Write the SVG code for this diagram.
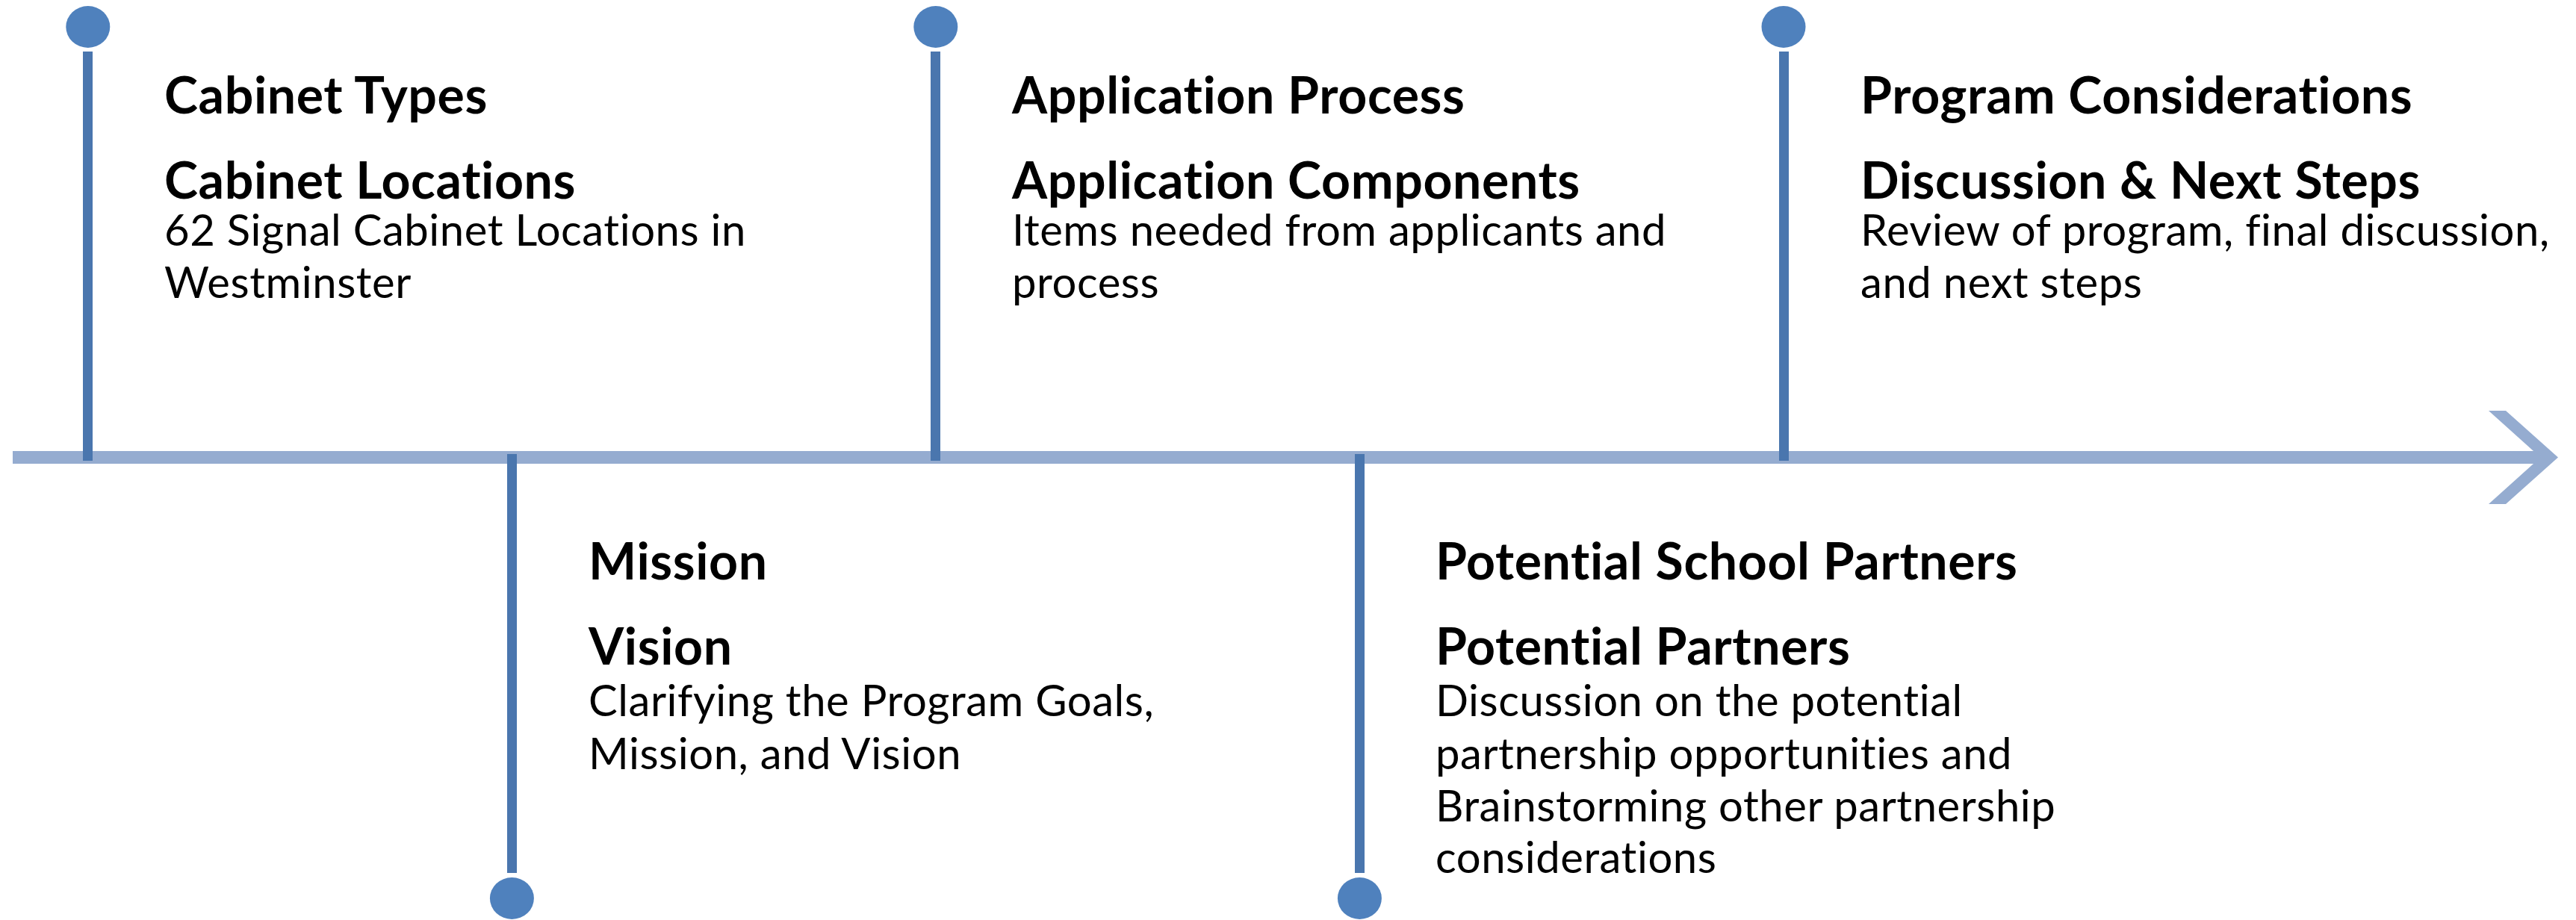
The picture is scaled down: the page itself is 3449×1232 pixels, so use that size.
<svg xmlns="http://www.w3.org/2000/svg" width="3449" height="1232" viewBox="0 0 3449 1232">
<style>
.axis{fill:#95ACD0}
.stem{fill:#4A76AE}
.dot{fill:#4F81BD}
.h,.b{font-family:Lato,"Open Sans","Liberation Sans",sans-serif;fill:#000;font-variant-ligatures:none;font-feature-settings:"liga" 0,"dlig" 0}
.h{font-weight:700;font-size:68px;letter-spacing:0.6px}
.b{font-weight:400;font-size:58px;letter-spacing:0.55px}
</style>
<rect width="3449" height="1232" fill="#fff"/>
<g id="connectors">
<rect class="axis" x="17" y="604" width="3385" height="17"/>
<polygon class="axis" points="3332,550 3355,550 3425,612.5 3355,675 3332,675 3401.5,612.5"/>
<rect class="stem" x="111" y="69" width="13" height="548"/>
<rect class="stem" x="679" y="608" width="13" height="561"/>
<rect class="stem" x="1246" y="69" width="13" height="548"/>
<rect class="stem" x="1814" y="608" width="13" height="561"/>
<rect class="stem" x="2382" y="69" width="13" height="548"/>
</g>
<g id="node1">
<ellipse class="dot" cx="117.8" cy="36" rx="29.5" ry="28"/>
<text class="h" x="220" y="152">Cabinet Types</text>
<text class="h" x="220" y="266">Cabinet Locations</text>
<text class="b" x="220" y="329">62 Signal Cabinet Locations in</text>
<text class="b" x="220" y="399">Westminster</text>
</g>
<g id="node2">
<ellipse class="dot" cx="685.4" cy="1203" rx="29.5" ry="28"/>
<text class="h" x="788" y="776">Mission</text>
<text class="h" x="788" y="890">Vision</text>
<text class="b" x="788" y="959">Clarifying the Program Goals,</text>
<text class="b" x="788" y="1030">Mission, and Vision</text>
</g>
<g id="node3">
<ellipse class="dot" cx="1252.8" cy="36" rx="29.5" ry="28"/>
<text class="h" x="1355" y="152">Application Process</text>
<text class="h" x="1355" y="266">Application Components</text>
<text class="b" x="1355" y="329">Items needed from applicants and</text>
<text class="b" x="1355" y="399">process</text>
</g>
<g id="node4">
<ellipse class="dot" cx="1820.4" cy="1203" rx="29.5" ry="28"/>
<text class="h" x="1922" y="776">Potential School Partners</text>
<text class="h" x="1922" y="890">Potential Partners</text>
<text class="b" x="1922" y="959">Discussion on the potential</text>
<text class="b" x="1922" y="1030">partnership opportunities and</text>
<text class="b" x="1922" y="1100">Brainstorming other partnership</text>
<text class="b" x="1922" y="1169">considerations</text>
</g>
<g id="node5">
<ellipse class="dot" cx="2388" cy="36" rx="29.5" ry="28"/>
<text class="h" x="2491" y="152">Program Considerations</text>
<text class="h" x="2491" y="266">Discussion &amp; Next Steps</text>
<text class="b" x="2491" y="329">Review of program, final discussion,</text>
<text class="b" x="2491" y="399">and next steps</text>
</g>
</svg>
